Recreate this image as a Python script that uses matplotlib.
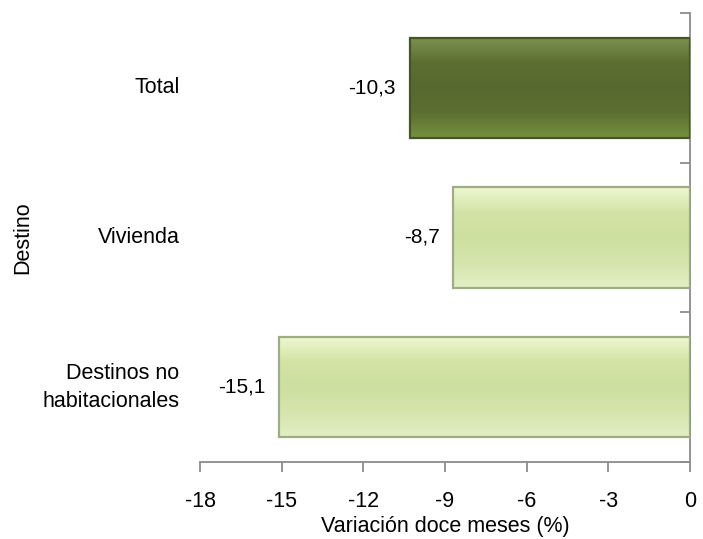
import numpy as np
import matplotlib
matplotlib.use("Agg")
import matplotlib.pyplot as plt
from matplotlib.colors import LinearSegmentedColormap

plt.rcParams["font.family"] = ["Liberation Sans", "DejaVu Sans"]

# ── DATA ──────────────────────────────────────────────────────
categories = ["Total", "Vivienda", "Destinos no\nhabitacionales"]
values     = [-10.3, -8.7, -15.1]
labels     = ["-10,3", "-8,7", "-15,1"]
xticks     = [-18, -15, -12, -9, -6, -3, 0]

# colour ramps (top -> bottom) for each bar
DARK_RAMP  = ["#7d9252", "#5c6f31", "#58692f", "#5c6f31", "#76913e"]
LIGHT_RAMP = ["#eef8d2", "#d3e3a6", "#cde09f", "#d5e5ad", "#e2efc6"]
ramps      = [DARK_RAMP, LIGHT_RAMP, LIGHT_RAMP]
edges      = ["#465524", "#9fae80", "#9fae80"]
GRAY       = "#8c8c8c"
FS         = 15.5

fig = plt.figure(figsize=(7.03, 5.39), dpi=100)
ax = fig.add_axes([0.2845, 0.1429, 0.697, 0.833])

ypos = np.arange(len(categories))[::-1]
bars = ax.barh(ypos, values, height=0.67, color="none",
               edgecolor="none", zorder=2)

grad = np.linspace(0, 1, 256).reshape(-1, 1)
for bar, ramp, ec in zip(bars, ramps, edges):
    x0, y0 = bar.get_x(), bar.get_y()
    w, h = bar.get_width(), bar.get_height()
    cmap = LinearSegmentedColormap.from_list("g", ramp)
    im = ax.imshow(grad, cmap=cmap, aspect="auto", origin="upper",
                   extent=[x0, x0 + w, y0, y0 + h], zorder=2)
    im.set_clip_path(bar)
    ax.add_patch(plt.Rectangle((x0, y0), w, h, fill=False,
                               edgecolor=ec, lw=1.6, zorder=3))

for y, v, lab in zip(ypos, values, labels):
    ax.text(v - 0.5, y, lab, ha="right", va="center", fontsize=15,
            color="#000000")

ax.set_xlim(-18, 0)
ax.set_ylim(-0.5, 2.5)
ax.set_xticks(xticks)
ax.set_xticklabels([str(t) for t in xticks], fontsize=FS)
ax.set_yticks([-0.5, 0.5, 1.5, 2.5], minor=False)
ax.set_yticklabels([])
for y, cat in zip(ypos, categories):
    ax.text(-18.75, y, cat, ha="right", va="center", fontsize=FS,
            linespacing=1.45)

for s in ["top", "left"]:
    ax.spines[s].set_visible(False)
for s in ["right", "bottom"]:
    ax.spines[s].set_color(GRAY)
    ax.spines[s].set_linewidth(1.3)

ax.tick_params(axis="x", direction="out", length=7, color=GRAY,
               width=1.3, pad=14)
ax.tick_params(axis="y", left=False, right=True, direction="in",
               length=7, color=GRAY, width=1.3)

ax.set_xlabel("Variación doce meses (%)", fontsize=FS, labelpad=3)
fig.text(0.032, 0.5 * (0.1429 + 0.9759), "Destino", rotation=90,
         ha="center", va="center", fontsize=FS)

plt.savefig("out.png", dpi=100, facecolor="white")
plt.close()
